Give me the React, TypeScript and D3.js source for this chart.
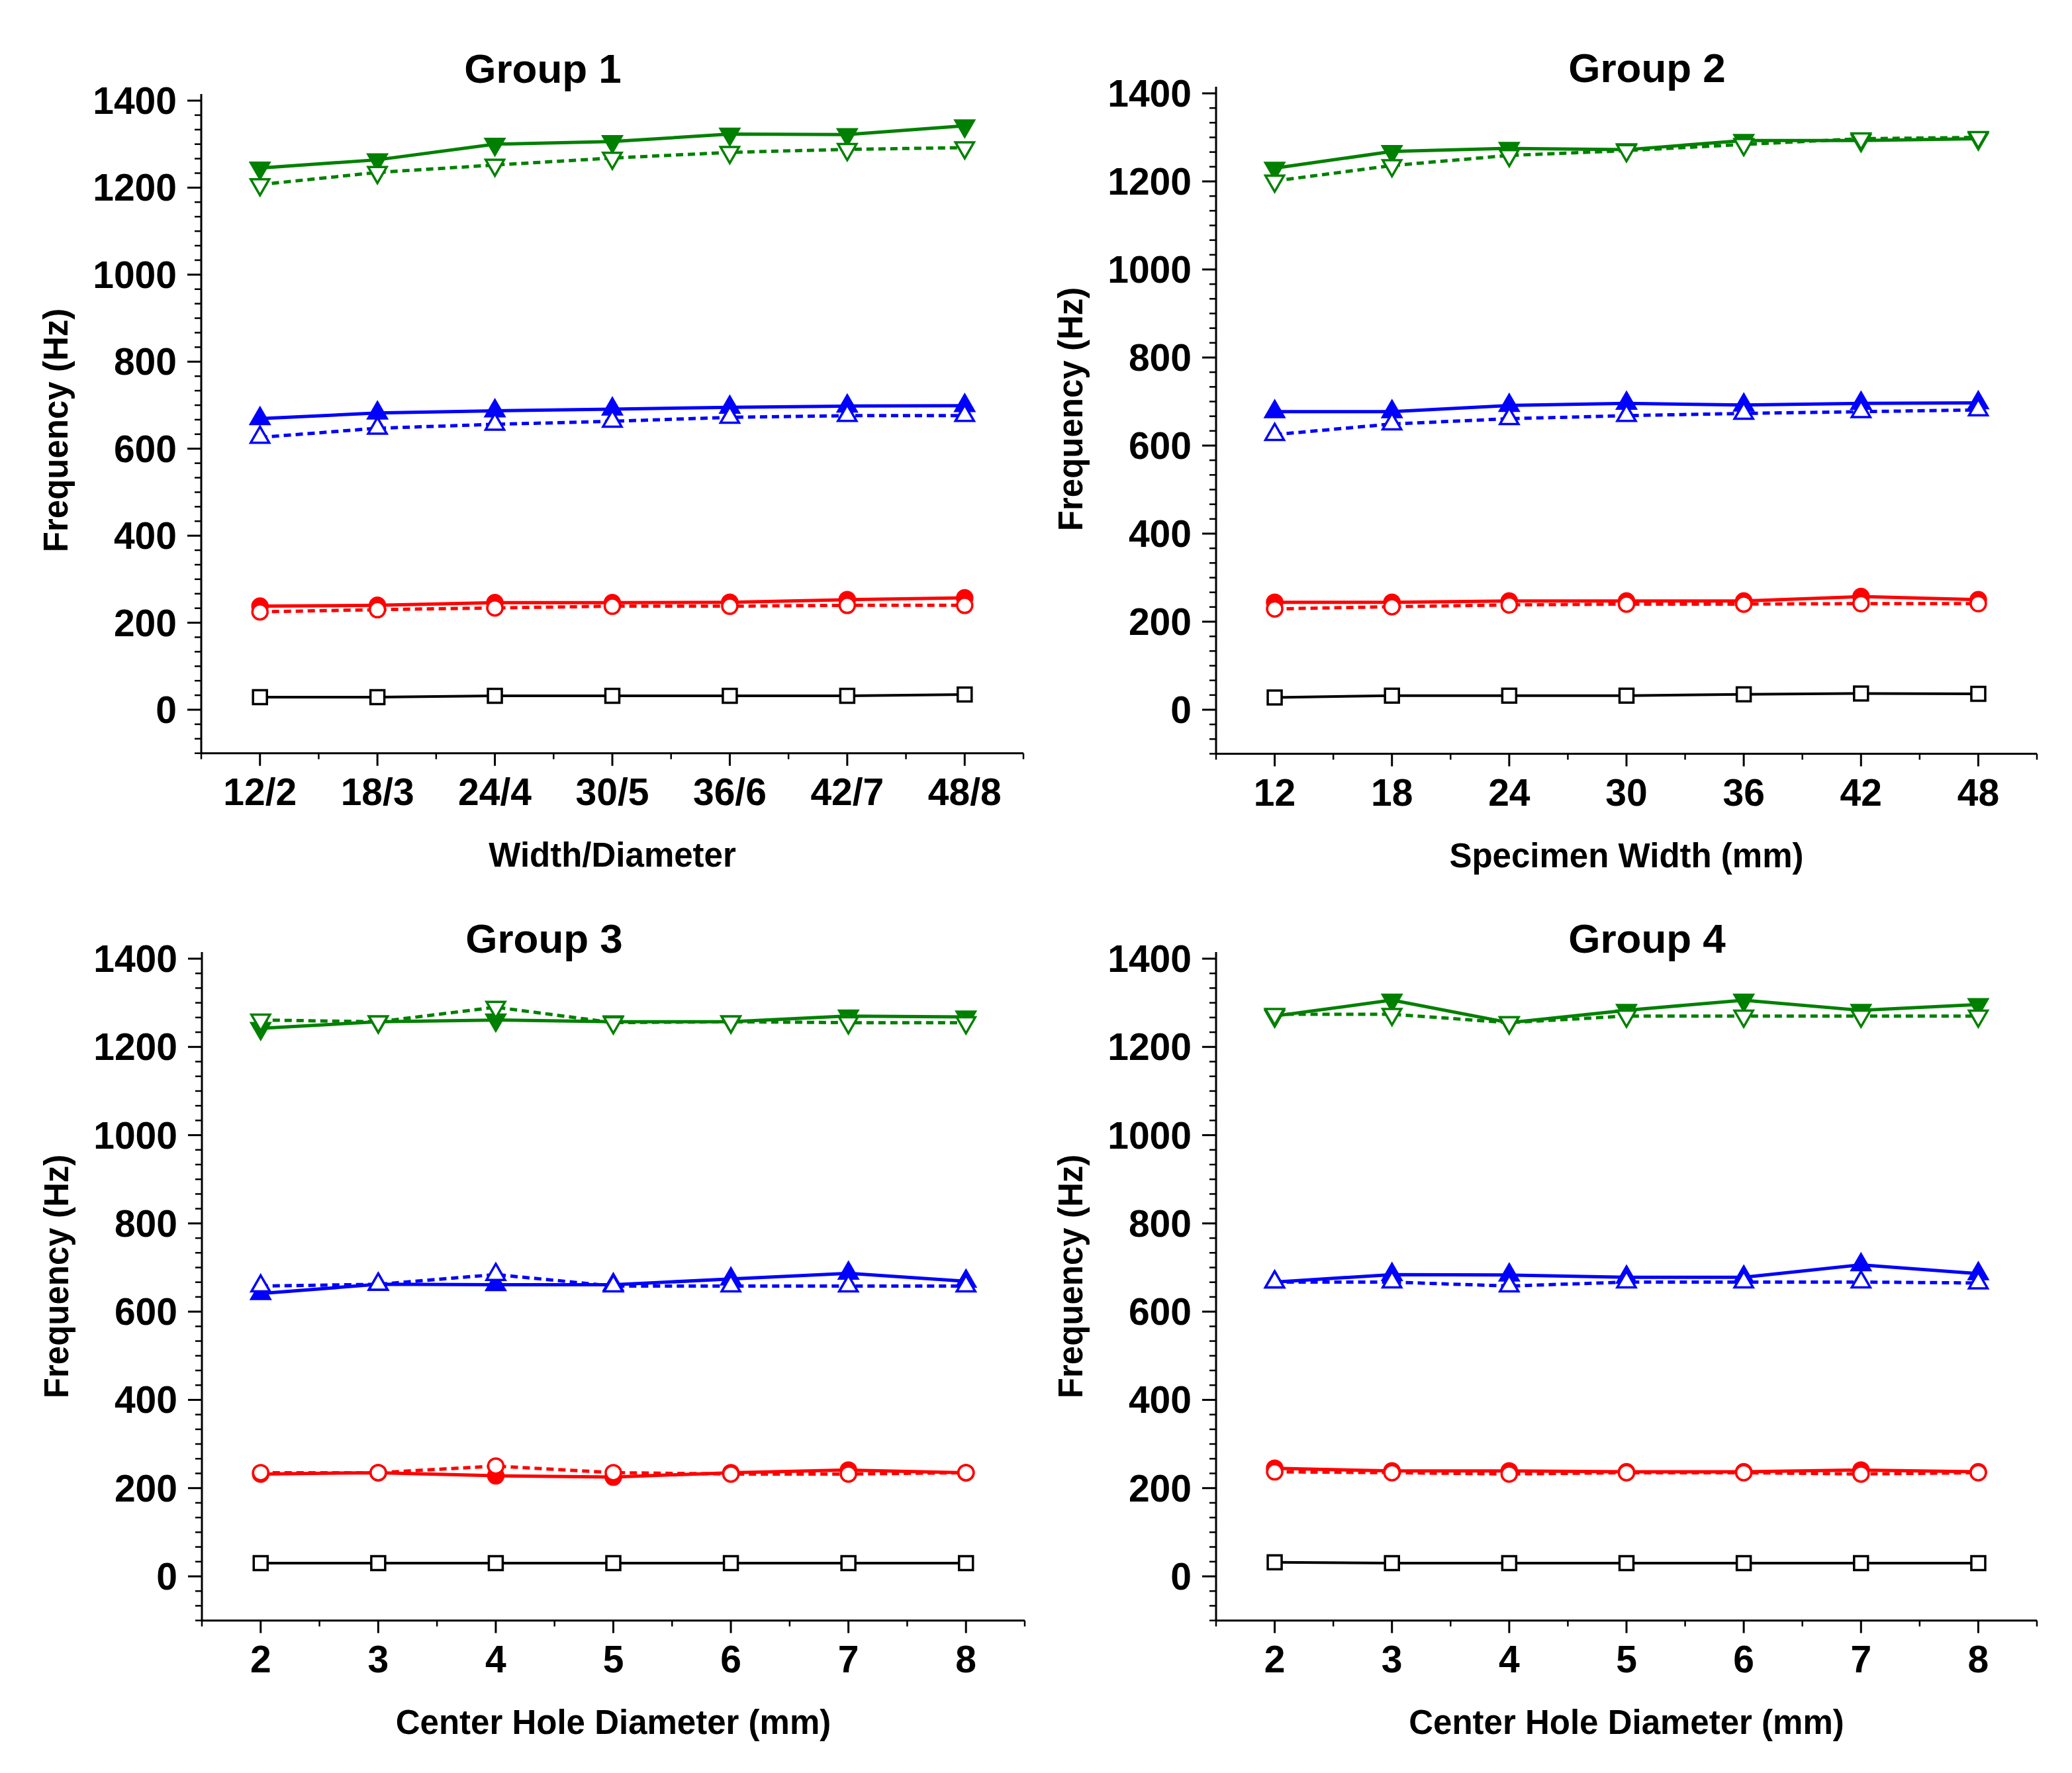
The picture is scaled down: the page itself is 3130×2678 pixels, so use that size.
import React from 'react';
import * as d3 from 'd3';

// ---- data ----
const labelsG1 = ['12/2', '18/3', '24/4', '30/5', '36/6', '42/7', '48/8'];
const labelsG2 = ['12', '18', '24', '30', '36', '42', '48'];
const labelsG34 = ['2', '3', '4', '5', '6', '7', '8'];
const yTickValues = [0, 200, 400, 600, 800, 1000, 1200, 1400];

const g1GreenSolid = [1245, 1264, 1300, 1306, 1323, 1322, 1342];
const g1GreenDash = [1207, 1235, 1252, 1268, 1281, 1288, 1292];
const g1BlueSolid = [669, 682, 687, 691, 695, 698, 699];
const g1BlueDash = [626, 647, 656, 663, 672, 676, 676];
const g1RedSolid = [238, 240, 246, 246, 247, 253, 257];
const g1RedDash = [225, 230, 234, 238, 238, 240, 240];
const g1Black = [29, 29, 32, 32, 32, 32, 35];

const g2GreenSolid = [1230, 1268, 1275, 1272, 1293, 1293, 1297];
const g2GreenDash = [1201, 1236, 1259, 1270, 1284, 1297, 1300];
const g2BlueSolid = [677, 677, 691, 696, 692, 696, 697];
const g2BlueDash = [625, 649, 661, 668, 673, 677, 681];
const g2RedSolid = [244, 244, 247, 247, 247, 257, 250];
const g2RedDash = [229, 234, 238, 240, 240, 241, 241];
const g2Black = [28, 32, 32, 32, 35, 37, 36];

const g3GreenSolid = [1242, 1257, 1261, 1257, 1257, 1270, 1268];
const g3GreenDash = [1261, 1257, 1290, 1255, 1257, 1255, 1255];
const g3BlueSolid = [641, 662, 661, 661, 674, 687, 669];
const g3BlueDash = [658, 662, 684, 658, 658, 658, 658];
const g3RedSolid = [232, 235, 228, 225, 235, 241, 235];
const g3RedDash = [235, 235, 250, 235, 232, 232, 235];
const g3Black = [30, 30, 30, 30, 30, 30, 30];

const g4GreenSolid = [1270, 1306, 1255, 1283, 1306, 1283, 1296];
const g4GreenDash = [1274, 1274, 1255, 1270, 1270, 1270, 1270];
const g4BlueSolid = [667, 684, 683, 678, 678, 706, 686];
const g4BlueDash = [667, 667, 658, 667, 667, 667, 665];
const g4RedSolid = [245, 239, 239, 237, 237, 241, 237];
const g4RedDash = [237, 235, 232, 235, 235, 232, 235];
const g4Black = [32, 30, 30, 30, 30, 30, 30];

const GREEN = '#008000';
const BLUE = '#0000ff';
const RED = '#ff0000';
const BLACK = '#000000';
const FONT = '"Liberation Sans", Arial, sans-serif';

type Shape = 'tri-down' | 'tri-up' | 'circle' | 'square';
interface Series { values: number[]; color: string; shape: Shape; filled: boolean; dashed: boolean; }

const buildSeries = (gs: number[], gd: number[], bs: number[], bd: number[], rs: number[], rd: number[], k: number[]): Series[] => [
  { values: k, color: BLACK, shape: 'square', filled: false, dashed: false },
  { values: rs, color: RED, shape: 'circle', filled: true, dashed: false },
  { values: rd, color: RED, shape: 'circle', filled: false, dashed: true },
  { values: bs, color: BLUE, shape: 'tri-up', filled: true, dashed: false },
  { values: bd, color: BLUE, shape: 'tri-up', filled: false, dashed: true },
  { values: gs, color: GREEN, shape: 'tri-down', filled: true, dashed: false },
  { values: gd, color: GREEN, shape: 'tri-down', filled: false, dashed: true },
];

interface PanelCfg {
  title: string; xTitle: string; labels: string[]; series: Series[];
  x0: number; x1: number; yTop: number; yZero: number;
  titleX: number; titleY: number; yTitleCenter: number;
}

const panels: PanelCfg[] = [
  { title: 'Group 1', xTitle: 'Width/Diameter', labels: labelsG1,
    series: buildSeries(g1GreenSolid, g1GreenDash, g1BlueSolid, g1BlueDash, g1RedSolid, g1RedDash, g1Black),
    x0: 304, x1: 1546, yTop: 152, yZero: 1072, titleX: 820, titleY: 125, yTitleCenter: 650 },
  { title: 'Group 2', xTitle: 'Specimen Width (mm)', labels: labelsG2,
    series: buildSeries(g2GreenSolid, g2GreenDash, g2BlueSolid, g2BlueDash, g2RedSolid, g2RedDash, g2Black),
    x0: 1837, x1: 3077, yTop: 141, yZero: 1072, titleX: 2488, titleY: 124, yTitleCenter: 618 },
  { title: 'Group 3', xTitle: 'Center Hole Diameter (mm)', labels: labelsG34,
    series: buildSeries(g3GreenSolid, g3GreenDash, g3BlueSolid, g3BlueDash, g3RedSolid, g3RedDash, g3Black),
    x0: 305, x1: 1548, yTop: 1448, yZero: 2381, titleX: 822, titleY: 1439, yTitleCenter: 1928 },
  { title: 'Group 4', xTitle: 'Center Hole Diameter (mm)', labels: labelsG34,
    series: buildSeries(g4GreenSolid, g4GreenDash, g4BlueSolid, g4BlueDash, g4RedSolid, g4RedDash, g4Black),
    x0: 1837, x1: 3077, yTop: 1448, yZero: 2381, titleX: 2488, titleY: 1439, yTitleCenter: 1928 },
];

const symbolPath = (shape: Shape) => {
  if (shape === 'square') return d3.symbol(d3.symbolSquare, 21 * 21)()!;
  if (shape === 'circle') return d3.symbol(d3.symbolCircle, Math.PI * 11.5 * 11.5)()!;
  return d3.symbol(d3.symbolTriangle, (Math.sqrt(3) / 4) * 28 * 28)()!;
};

const Panel: React.FC<{ cfg: PanelCfg }> = ({ cfg }) => {
  const x = d3.scaleLinear().domain([-0.5, cfg.labels.length - 0.5]).range([cfg.x0, cfg.x1]);
  const y = d3.scaleLinear().domain([0, 1400]).range([cfg.yZero, cfg.yTop]);
  const yBottom = y(-100);
  const yAxisTop = y(1400) - 10;
  const minorY = d3.range(-3, 43).map(k => (k * 200) / 6).filter(v => v % 200 !== 0 && v >= -100 && v <= 1400);
  const minorX = d3.range(-0.5, cfg.labels.length, 1);
  const line = d3.line<number>().x((_, i) => x(i)).y(d => y(d));

  return (
    <g>
      <text x={cfg.titleX} y={cfg.titleY} textAnchor="middle" fontFamily={FONT} fontWeight="bold" fontSize={62}>{cfg.title}</text>

      {/* axes */}
      <line x1={cfg.x0} x2={cfg.x0} y1={yAxisTop} y2={yBottom} stroke="#000" strokeWidth={3} />
      <line x1={cfg.x0} x2={cfg.x1} y1={yBottom} y2={yBottom} stroke="#000" strokeWidth={3} />
      {yTickValues.map(v => (
        <g key={`yt${v}`}>
          <line x1={cfg.x0 - 21} x2={cfg.x0} y1={y(v)} y2={y(v)} stroke="#000" strokeWidth={3} />
          <text x={cfg.x0 - 37} y={y(v) + 20} textAnchor="end" fontFamily={FONT} fontWeight="bold" fontSize={57}>{v}</text>
        </g>
      ))}
      {minorY.map(v => (
        <line key={`ym${v}`} x1={cfg.x0 - 10} x2={cfg.x0} y1={y(v)} y2={y(v)} stroke="#000" strokeWidth={2.5} />
      ))}
      {cfg.labels.map((l, i) => (
        <g key={`xt${l}`}>
          <line x1={x(i)} x2={x(i)} y1={yBottom} y2={yBottom + 19} stroke="#000" strokeWidth={3} />
          <text x={x(i)} y={yBottom + 78} textAnchor="middle" fontFamily={FONT} fontWeight="bold" fontSize={57}>{l}</text>
        </g>
      ))}
      {minorX.map(v => (
        <line key={`xm${v}`} x1={x(v)} x2={x(v)} y1={yBottom} y2={yBottom + 9} stroke="#000" strokeWidth={2.5} />
      ))}
      <text x={(cfg.x0 + cfg.x1) / 2} y={yBottom + 171} textAnchor="middle" fontFamily={FONT} fontWeight="bold" fontSize={51}>{cfg.xTitle}</text>
      <text transform={`translate(${cfg.x0 - 202},${cfg.yTitleCenter}) rotate(-90)`} textAnchor="middle" fontFamily={FONT} fontWeight="bold" fontSize={51}>Frequency (Hz)</text>

      {/* series */}
      {cfg.series.map((s, si) => (
        <g key={`s${si}`}>
          <path d={line(s.values)!} fill="none" stroke={s.color} strokeWidth={s.color === BLACK ? 4 : 5} strokeDasharray={s.dashed ? '11 7' : undefined} />
          {s.values.map((v, i) => (
            <path key={i} d={symbolPath(s.shape)}
              transform={`translate(${x(i)},${y(v)})${s.shape === 'tri-down' ? ' rotate(180)' : ''}`}
              fill={s.filled ? s.color : '#fff'} stroke={s.color} strokeWidth={3.5} />
          ))}
        </g>
      ))}
    </g>
  );
};

export default function App() {
  return (
    <svg width={3130} height={2678} viewBox="0 0 3130 2678" style={{ position: 'absolute', left: 0, top: 0, background: '#fff' }}>
      <rect width={3130} height={2678} fill="#fff" />
      {panels.map(p => <Panel key={p.title} cfg={p} />)}
    </svg>
  );
}
